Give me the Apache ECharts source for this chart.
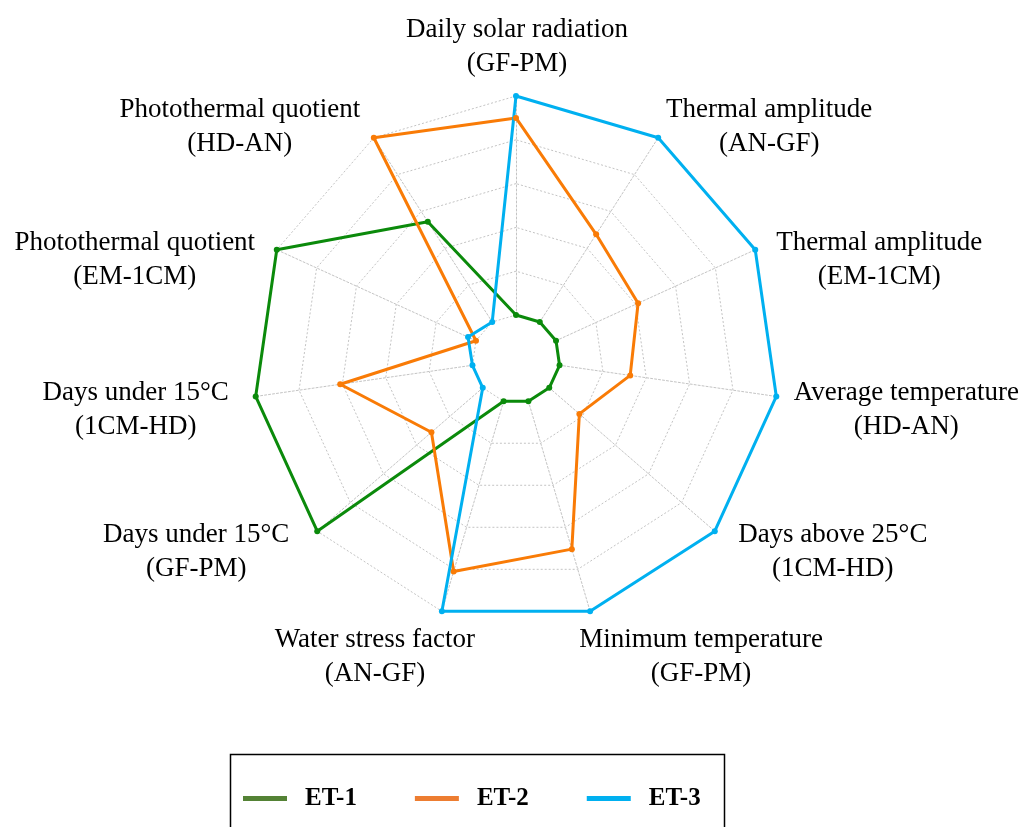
<!DOCTYPE html>
<html><head><meta charset="utf-8">
<script src="https://cdn.jsdelivr.net/npm/echarts@6/dist/echarts.min.js"></script>
<style>html,body{margin:0;padding:0;background:#fff}#main{width:1023px;height:827px}</style>
</head><body><div id="main"></div>
<script>
// ---- Data (reference order, clockwise from the top axis) ----
const indicators = [
  'Daily solar radiation\n(GF-PM)',
  'Thermal amplitude\n(AN-GF)',
  'Thermal amplitude\n(EM-1CM)',
  'Average temperature\n(HD-AN)',
  'Days above 25°C\n(1CM-HD)',
  'Minimum temperature\n(GF-PM)',
  'Water stress factor\n(AN-GF)',
  'Days under 15°C\n(GF-PM)',
  'Days under 15°C\n(1CM-HD)',
  'Photothermal quotient\n(EM-1CM)',
  'Photothermal quotient\n(HD-AN)'
];
const seriesNames = ['ET-1', 'ET-2', 'ET-3'];
const et1 = [0, 0, 0, 0, 0, 0, 0, 5, 5, 5, 2.72];
const et2 = [4.5, 2.38, 2.06, 1.63, 0.91, 3.52, 4.05, 1.55, 3.05, 0, 5];
const et3 = [5, 5, 5, 5, 5, 5, 5, 0, 0, 0.2, 0];
const axisMin = 0, axisMax = 5;

// ---- Layout / style ----
const CX = 516, CY = 359, R0 = 44, R = 263;
const lineColors = ['#0B8A0B', '#F97B06', '#00B0F0'];
const legendColors = ['#548235', '#ED7D31', '#00B0F0'];
// label block centre offset from each axis end point
const labelOffsets = [[1,-49],[111,-11],[124,10],[130,13],[118,21],[111,46],[-67,46],[-121,21],[-120,13],[-142,10],[-134,-11]];

const n = indicators.length;
// ECharts lays indicators out counter-clockwise; reorder to get clockwise
const ecOrder = indicators.map((_, k) => k === 0 ? 0 : n - k);
const reorder = arr => ecOrder.map(i => arr[i]);

const gridStyle = { color: '#c4c4c4', width: 1, type: [2, 2] };

const labelGraphics = indicators.map((name, i) => {
  const a = (90 - i * 360 / n) * Math.PI / 180;
  const vx = CX + R * Math.cos(a), vy = CY - R * Math.sin(a);
  return {
    type: 'text',
    x: vx + labelOffsets[i][0],
    y: vy + labelOffsets[i][1],
    style: {
      text: name, align: 'center', verticalAlign: 'middle',
      fontFamily: 'Liberation Serif', fontSize: 27, lineHeight: 34, fill: '#000'
    }
  };
});

const chart = echarts.init(document.getElementById('main'));
chart.setOption({
  backgroundColor: '#fff',
  animation: false,
  radar: {
    center: [CX, CY],
    radius: [R0, R],
    startAngle: 90,
    shape: 'polygon',
    splitNumber: 5,
    indicator: reorder(indicators).map(name => ({ name, min: axisMin, max: axisMax })),
    axisName: { show: false },
    axisLine: { lineStyle: gridStyle },
    splitLine: { lineStyle: gridStyle },
    splitArea: { show: false },
    axisTick: { show: false },
    axisLabel: { show: false }
  },
  legend: {
    left: 238, top: 781,
    icon: 'rect', itemWidth: 44, itemHeight: 5, itemGap: 58,
    selectedMode: false,
    textStyle: { fontFamily: 'Liberation Serif', fontWeight: 'bold', fontSize: 25, color: '#000', padding: [0, 0, 0, 13] },
    data: seriesNames.map((nm, k) => ({ name: nm, itemStyle: { color: legendColors[k] } }))
  },
  series: [{
    type: 'radar',
    symbol: 'circle',
    symbolSize: 6,
    data: [et1, et2, et3].map((vals, k) => ({
      name: seriesNames[k],
      value: reorder(vals),
      lineStyle: { color: lineColors[k], width: 3 },
      itemStyle: { color: lineColors[k] }
    }))
  }],
  graphic: [
    ...labelGraphics,
    { type: 'rect', shape: { x: 230.5, y: 754.5, width: 494, height: 120 },
      style: { fill: 'none', stroke: '#000', lineWidth: 1.5 } }
  ]
});
</script></body></html>
